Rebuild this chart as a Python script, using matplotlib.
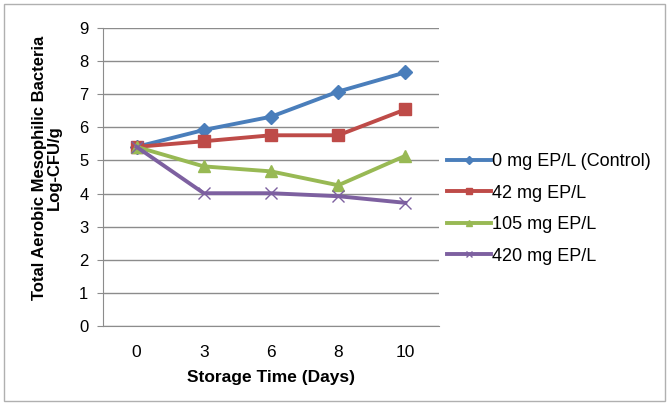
import matplotlib
matplotlib.use('Agg')
import matplotlib.pyplot as plt
from matplotlib.patches import Rectangle

## Data ##
days = ['0', '3', '6', '8', '10']
control = [5.41, 5.92, 6.32, 7.08, 7.66]
ep42 = [5.41, 5.58, 5.76, 5.76, 6.54]
ep105 = [5.41, 4.82, 4.67, 4.25, 5.14]
ep420 = [5.41, 4.01, 4.01, 3.92, 3.72]
labels = ['0 mg EP/L (Control)', '42 mg EP/L', '105 mg EP/L', '420 mg EP/L']

plt.rcParams['font.family'] = ['Liberation Sans', 'DejaVu Sans']

fig = plt.figure(figsize=(6.69, 4.05), dpi=100)
fig.patches.append(Rectangle((0.006, 0.01), 0.988, 0.98, transform=fig.transFigure,
                             fill=False, edgecolor='#b0b0b0', linewidth=1))
ax = fig.add_axes([103/669, 1 - 326/405, (439 - 103)/669, (326 - 28)/405])

x = range(len(days))
ax.plot(x, control, color='#4a7ebb', lw=2.8, marker='D', ms=7, label=labels[0])
ax.plot(x, ep42, color='#be4b48', lw=2.8, marker='s', ms=8, label=labels[1])
ax.plot(x, ep105, color='#98b954', lw=2.8, marker='^', ms=8, label=labels[2])
ax.plot(x, ep420, color='#7d60a0', lw=2.8, marker='x', ms=8, mew=1.0,
        label=labels[3])

## Axes ##
ax.set_xlim(-0.5, 4.5)
ax.set_ylim(0, 9)
ax.set_yticks(range(10))
ax.set_xticks(list(x))
ax.set_xticklabels(days)
ax.yaxis.grid(True, color='#8c8c8c', lw=1)
ax.set_axisbelow(True)
for s in ['top', 'right']:
    ax.spines[s].set_visible(False)
for s in ['left', 'bottom']:
    ax.spines[s].set_color('#8c8c8c')
ax.tick_params(axis='y', length=4.5, color='#8c8c8c', labelsize=12, pad=6)
ax.tick_params(axis='x', length=0, labelsize=12.5, pad=14)
ax.set_xlabel('Storage Time (Days)', fontsize=12.5, fontweight='bold', labelpad=7)
ax.set_ylabel('Total Aerobic Mesophilic Bacteria\nLog-CFU/g', fontsize=12,
              fontweight='bold', linespacing=1.0)
ax.yaxis.set_label_coords(-0.122, 0.53)

leg = ax.legend(loc='center left', bbox_to_anchor=((440 - 103)/336, 0.393),
                frameon=False, fontsize=13, handlelength=2.4, handletextpad=0.1,
                labelspacing=0.8, markerscale=0.6, borderaxespad=0)

fig.savefig('out.png', dpi=100)
